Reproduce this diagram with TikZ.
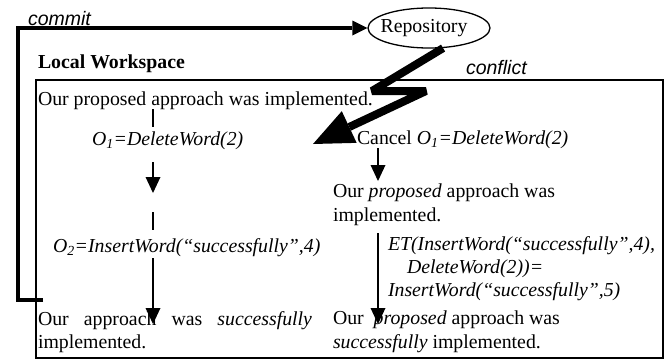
\documentclass[tikz,border=0pt]{standalone}
\usepackage{fontspec}
\setmainfont{Liberation Serif}
\setsansfont{Liberation Sans}
\usetikzlibrary{arrows.meta,shapes.geometric}
\begin{document}
\begin{tikzpicture}[x=1pt,y=-1pt,
  txt/.style={inner sep=0pt, outer sep=0pt, anchor=base west,
    font=\fontsize{19.8}{23.3}\selectfont},
  lbl/.style={inner sep=0pt, outer sep=0pt, anchor=base west,
    font=\sffamily\itshape\fontsize{19.5}{22}\selectfont},
  link/.style={line width=1.8pt},
  flow/.style={line width=1.8pt, -{Triangle[length=16pt,width=15pt,line width=0pt]}},
  commitline/.style={line width=3.5pt, -{Triangle[length=15pt,width=15pt,line width=0pt]}},
  bolt/.style={line width=8pt, line join=bevel,
    -{Triangle[length=40pt,width=35pt,line width=0pt]}},
  frame/.style={line width=1.6pt},
  repo/.style={ellipse, draw, line width=1.3pt, minimum width=122pt,
    minimum height=40pt, inner sep=0pt, font=\fontsize{19.8}{23}\selectfont}]
\useasboundingbox (0,0) rectangle (668,362);

% repository and the local workspace frame
\node[repo] (rep) at (429,28) {\hspace*{-10pt}Repository};
\draw[frame] (36,80) rectangle (663,358);
\node[txt, font=\bfseries\fontsize{19.8}{23}\selectfont] (ws) at (38,68) {Local Workspace};

% edge labels
\node[lbl] (lcommit) at (28,25) {commit};
\node[lbl] (lconflict) at (466,74) {conflict};

% left branch: local operations
\node[txt] (l1) at (38,105) {Our proposed approach was implemented.};
\node[txt] (o1) at (92,145) {\itshape O\textsubscript{1}=DeleteWord(2)};
\node[txt] (o2) at (53,252) {\itshape O\textsubscript{2}=InsertWord(“successfully”,4)};
\node[txt, text width=274pt, align=justify] (lb) at (38,325)
  {Our approach was \textit{successfully}\linebreak implemented.};

% right branch: after the conflict (multi-line nodes sit on their last baseline)
\node[txt] (cancel) at (357,144) {Cancel \textit{O\textsubscript{1}=DeleteWord(2)}};
\node[txt, align=left] (r2) at (333,221) {Our \textit{proposed} approach was\\implemented.};
\node[txt, align=left, font=\itshape\fontsize{19.8}{23}\selectfont] (et) at (388,296)
  {ET(InsertWord(“successfully”,4),\\\hspace*{19pt}DeleteWord(2))=\\InsertWord(“successfully”,5)};
\node[txt, align=left] (rb) at (333,348)
  {Our\ \ \textit{proposed} approach was\\\textit{successfully} implemented.};

% connector end points
\coordinate (a1) at (153,109); \coordinate (a2) at (153,127);
\coordinate (a3) at (153,162); \coordinate (a4) at (153,193);
\coordinate (a5) at (153,212); \coordinate (a6) at (153,230);
\coordinate (a7) at (153,258); \coordinate (a8) at (153,324);
\coordinate (b1) at (378,148); \coordinate (b2) at (378,181);
\coordinate (b3) at (378,233); \coordinate (b4) at (378,324);
\coordinate (cs) at (43,300);  \coordinate (cc) at (18,300);
\coordinate (z1) at (372,91);  \coordinate (z2) at (426,91);
\coordinate (z3) at (313,144);

% left branch arrows
\draw[link] (a1) -- (a2);
\draw[flow] (a3) -- (a4);
\draw[link] (a5) -- (a6);
\draw[flow] (a7) -- (a8);

% right branch arrows
\draw[flow] (b1) -- (b2);
\draw[flow] (b3) -- (b4);

% commit to the repository
\draw[commitline] (cs) -- (cc) |- (rep.west);

% conflict bolt from the repository
\draw[bolt] (rep.-55) -- (z1) -- (z2) -- (z3);
\end{tikzpicture}
\end{document}
